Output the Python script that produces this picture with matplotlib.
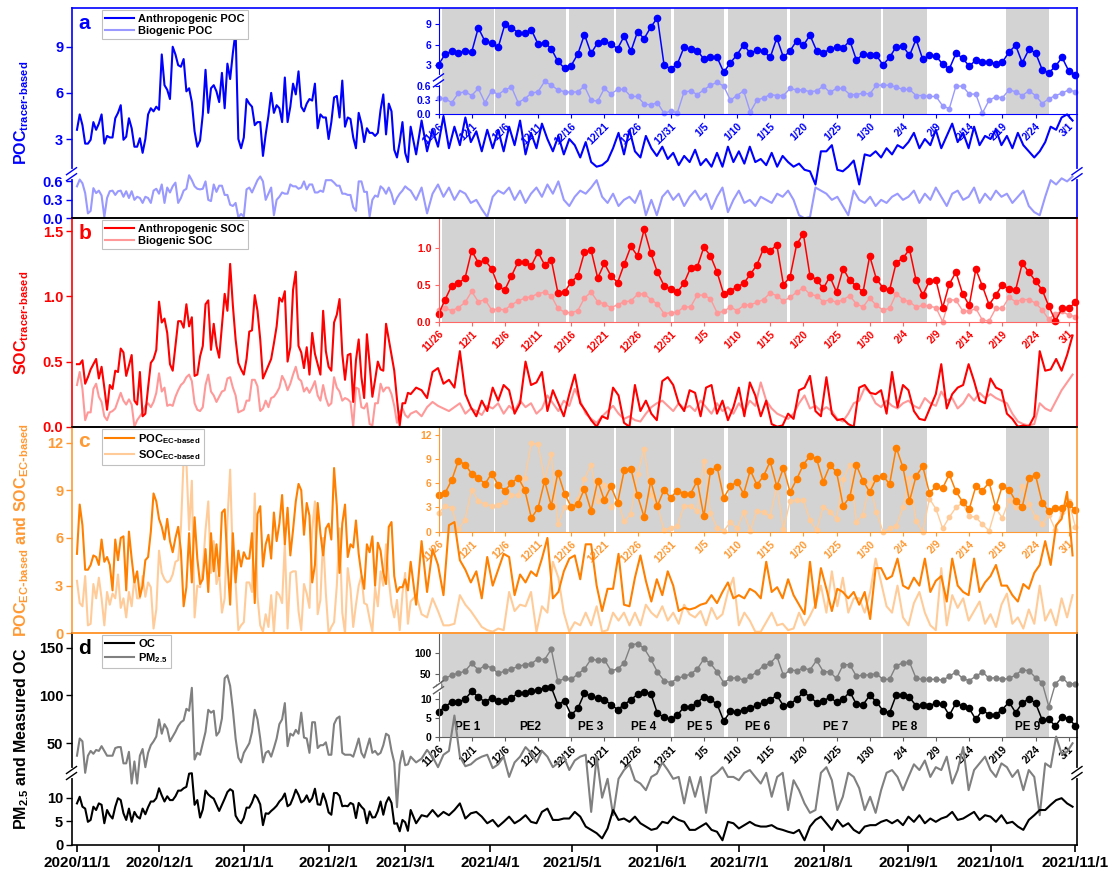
import numpy as np
import pandas as pd
import matplotlib
matplotlib.use("Agg")
import matplotlib.pyplot as plt

plt.rcParams['font.family'] = ['Liberation Sans', 'DejaVu Sans']
plt.rcParams['font.weight'] = 'bold'
plt.rcParams['axes.labelweight'] = 'bold'
plt.rcParams['mathtext.default'] = 'regular'

# ---------------- data ----------------
# 2020/11/1 - 2020/11/25, daily
poc_anth_pre = [3.6, 4.6, 3.9, 2.7, 2.7, 2.95, 4.1, 3.6, 4.0, 4.6, 2.7, 3.2, 3.1, 3.1, 4.35,
                4.7, 5.2, 2.95, 3.15, 4.35, 3.7, 2.5, 2.5, 3.05, 2.1]
poc_bio_pre = [0.52, 0.63, 0.57, 0.41, 0.08, 0.12, 0.49, 0.41, 0.45, 0.37, 0.02, 0.33, 0.44, 0.45, 0.38,
               0.44, 0.45, 0.35, 0.44, 0.33, 0.44, 0.30, 0.35, 0.33, 0.25]
soc_anth_pre = [0.48, 0.48, 0.51, 0.33, 0.38, 0.44, 0.48, 0.52, 0.37, 0.46, 0.30, 0.13, 0.32, 0.29, 0.43,
                0.42, 0.60, 0.57, 0.39, 0.47, 0.55, 0.20, 0.17, 0.42, 0.08]
soc_bio_pre = [0.32, 0.42, 0.29, 0.05, 0.11, 0.11, 0.29, 0.33, 0.23, 0.19, 0.08, 0.05, 0.11, 0.12, 0.14,
               0.20, 0.26, 0.20, 0.17, 0.21, 0.17, 0.00, 0.05, 0.08, 0.11]
poc_ec_pre = [5.0, 8.1, 6.8, 4.0, 4.0, 4.3, 4.9, 4.8, 4.3, 5.9, 4.5, 4.8, 4.3, 2.7, 5.9,
              4.6, 6.0, 6.1, 2.7, 6.4, 4.7, 3.2, 3.9, 2.3, 3.0]
soc_ec_pre = [3.3, 1.9, 1.7, 3.6, 0.5, 0.6, 3.1, 2.2, 3.5, 2.2, 0.5, 2.6, 1.8, 2.5, 2.2,
              3.7, 1.6, 2.2, 1.0, 2.6, 1.7, 3.5, 2.2, 2.2, 3.6]
pm25_pre = [37, 55, 52, 18, 37, 42, 39, 43, 42, 47, 42, 37, 37, 37, 45,
            46, 46, 29, 29, 41, 13, 31, 13, 37, 44]
oc_pre = [8.8, 10.2, 8.1, 7.7, 4.9, 5.3, 8.1, 7.4, 8.8, 8.5, 4.6, 7.4, 6.3, 5.6, 8.1,
          9.9, 9.5, 6.7, 5.3, 7.7, 4.9, 7.0, 6.0, 5.6, 7.7]

# 2020/11/26 - 2021/3/2, daily (the days shown in the insets)
poc_anth_win = [3.0, 4.6, 5.0, 4.8, 5.1, 4.9, 8.5, 6.5, 6.2, 5.6,
                9.0, 8.5, 7.8, 7.7, 8.2, 6.1, 6.3, 5.4, 3.5, 2.5,
                2.9, 4.6, 7.5, 4.7, 6.3, 6.5, 6.1, 5.4, 7.3, 5.0,
                7.9, 6.9, 8.6, 10.0, 3.0, 2.4, 3.1, 5.6, 5.3, 5.1,
                3.9, 4.1, 4.1, 1.9, 3.3, 4.5, 6.0, 4.7, 5.2, 5.0,
                4.1, 7.0, 4.1, 5.1, 6.6, 5.9, 7.4, 5.1, 4.8, 5.3,
                5.6, 5.5, 6.6, 3.7, 4.6, 4.4, 4.4, 3.0, 4.1, 5.7,
                5.8, 4.4, 6.8, 3.8, 4.4, 4.3, 3.1, 2.4, 4.7, 4.0,
                2.8, 3.7, 3.4, 3.4, 3.2, 3.4, 4.9, 5.9, 3.3, 5.3,
                4.8, 2.3, 1.8, 2.8, 4.1, 2.1, 1.5]
poc_bio_win = [0.35, 0.33, 0.25, 0.45, 0.48, 0.40, 0.55, 0.25, 0.50, 0.42,
               0.52, 0.58, 0.25, 0.33, 0.45, 0.48, 0.70, 0.62, 0.52, 0.48,
               0.47, 0.48, 0.60, 0.30, 0.28, 0.55, 0.43, 0.53, 0.53, 0.38,
               0.38, 0.22, 0.20, 0.25, 0.02, 0.07, 0.03, 0.47, 0.50, 0.42,
               0.52, 0.62, 0.68, 0.60, 0.30, 0.40, 0.50, 0.05, 0.30, 0.35,
               0.42, 0.40, 0.40, 0.55, 0.52, 0.52, 0.48, 0.50, 0.60, 0.47,
               0.55, 0.55, 0.42, 0.42, 0.45, 0.43, 0.62, 0.62, 0.62, 0.58,
               0.53, 0.53, 0.40, 0.40, 0.38, 0.38, 0.18, 0.12, 0.60, 0.60,
               0.43, 0.43, 0.03, 0.30, 0.37, 0.35, 0.52, 0.48, 0.40, 0.50,
               0.40, 0.23, 0.33, 0.40, 0.45, 0.52, 0.48]
soc_anth_win = [0.10, 0.30, 0.49, 0.52, 0.59, 0.96, 0.80, 0.83, 0.72, 0.48,
                0.43, 0.62, 0.81, 0.81, 0.76, 0.94, 0.77, 0.84, 0.39, 0.40,
                0.54, 0.62, 0.94, 0.97, 0.59, 0.79, 0.62, 0.53, 0.78, 1.02,
                0.89, 1.25, 0.93, 0.67, 0.49, 0.44, 0.40, 0.52, 0.73, 0.74,
                1.01, 0.89, 0.67, 0.37, 0.42, 0.47, 0.52, 0.64, 0.77, 0.99,
                0.96, 1.04, 0.50, 0.61, 1.05, 1.19, 0.62, 0.57, 0.45, 0.61,
                0.40, 0.72, 0.56, 0.48, 0.40, 0.89, 0.58, 0.46, 0.43, 0.80,
                0.86, 0.98, 0.56, 0.36, 0.55, 0.56, 0.19, 0.51, 0.67, 0.38,
                0.22, 0.71, 0.48, 0.23, 0.36, 0.50, 0.44, 0.43, 0.79, 0.67,
                0.55, 0.43, 0.21, 0.01, 0.18, 0.18, 0.26]
soc_bio_win = [0.16, 0.18, 0.15, 0.19, 0.26, 0.41, 0.27, 0.30, 0.16, 0.17,
               0.16, 0.23, 0.28, 0.32, 0.34, 0.38, 0.40, 0.35, 0.18, 0.13,
               0.12, 0.15, 0.32, 0.40, 0.27, 0.24, 0.19, 0.23, 0.27, 0.28,
               0.37, 0.38, 0.30, 0.24, 0.11, 0.12, 0.13, 0.20, 0.20, 0.36,
               0.36, 0.31, 0.12, 0.14, 0.20, 0.15, 0.22, 0.23, 0.26, 0.30,
               0.39, 0.35, 0.28, 0.33, 0.40, 0.46, 0.37, 0.35, 0.27, 0.30,
               0.26, 0.30, 0.35, 0.24, 0.20, 0.32, 0.22, 0.16, 0.18, 0.38,
               0.30, 0.27, 0.20, 0.22, 0.21, 0.19, 0.00, 0.30, 0.29, 0.15,
               0.14, 0.18, 0.02, 0.01, 0.18, 0.18, 0.33, 0.27, 0.30, 0.30,
               0.25, 0.16, 0.03, 0.11, 0.14, 0.09, 0.07]
poc_ec_win = [4.6, 4.8, 6.4, 8.8, 8.3, 7.2, 6.7, 5.9, 7.2, 5.8,
              5.1, 6.0, 6.7, 5.2, 1.7, 2.9, 6.3, 3.2, 7.3, 4.7,
              3.1, 3.4, 5.3, 2.6, 6.3, 3.9, 5.6, 3.6, 7.6, 7.8,
              4.5, 1.8, 6.3, 3.2, 5.2, 4.2, 5.1, 4.7, 4.7, 6.3,
              1.9, 7.5, 8.0, 4.2, 5.6, 6.2, 4.7, 7.6, 5.8, 6.9,
              8.7, 5.6, 7.9, 4.9, 6.5, 8.3, 9.4, 9.0, 6.2, 8.2,
              7.4, 3.2, 4.3, 8.2, 6.3, 4.9, 6.6, 6.9, 5.9, 10.4,
              8.0, 3.8, 6.9, 8.1, 4.8, 5.6, 5.4, 7.1, 5.0, 3.7,
              2.8, 5.6, 5.1, 6.1, 3.0, 5.7, 5.2, 3.8, 3.1, 6.7,
              7.0, 3.6, 2.6, 2.9, 2.9, 3.4, 2.7]
soc_ec_win = [2.3, 3.2, 2.9, 0.3, 1.5, 5.2, 3.8, 3.4, 3.2, 3.3,
              3.7, 4.5, 4.6, 6.6, 11.0, 10.8, 6.5, 9.6, 1.0, 3.0,
              2.9, 4.0, 6.5, 8.3, 3.8, 5.8, 3.1, 3.8, 1.3, 2.2,
              7.1, 10.3, 4.5, 3.2, 0.2, 0.5, 0.7, 3.2, 3.2, 2.6,
              8.8, 2.3, 0.5, 0.1, 1.2, 0.4, 2.4, 0.1, 2.6, 2.4,
              1.9, 5.7, 0.3, 3.8, 3.9, 3.9, 1.4, 0.2, 3.1, 2.5,
              1.6, 6.5, 8.3, 1.2, 2.1, 6.0, 2.5, 0.0, 0.4, 0.7,
              3.0, 6.6, 1.3, 0.0, 4.1, 2.8, 0.4, 1.8, 3.0, 3.6,
              1.9, 1.8, 0.9, 0.1, 2.9, 1.7, 3.9, 3.0, 5.6, 3.4,
              1.8, 1.0, 2.1, 0.2, 2.5, 3.8, 0.6]
pm25_win = [25, 40, 48, 52, 57, 75, 60, 70, 65, 52,
            57, 62, 68, 72, 74, 86, 84, 108, 33, 40,
            38, 50, 62, 85, 82, 84, 58, 62, 76, 118,
            121, 110, 85, 55, 35, 30, 40, 45, 50, 62,
            85, 75, 55, 30, 40, 42, 36, 45, 55, 70,
            75, 92, 47, 60, 58, 64, 60, 82, 56, 55,
            40, 72, 72, 45, 48, 48, 51, 38, 38, 70,
            76, 78, 40, 38, 38, 38, 36, 45, 55, 40,
            35, 45, 55, 40, 42, 38, 40, 48, 60, 58,
            42, 30, 8, 28, 42, 27, 28]
oc_win = [6.5, 8.0, 9.2, 9.2, 9.9, 12.0, 10.5, 9.2, 10.3, 9.5,
          9.5, 10.3, 11.5, 11.5, 12.0, 12.3, 16.0, 17.0, 8.5, 9.5,
          5.8, 7.5, 11.5, 10.7, 10.2, 9.8, 8.5, 7.2, 8.5, 9.8,
          11.2, 11.8, 11.4, 6.2, 5.2, 4.6, 5.7, 7.9, 7.9, 9.0,
          10.6, 9.9, 8.6, 4.2, 6.7, 6.6, 7.2, 7.7, 8.3, 9.2,
          9.8, 10.9, 8.2, 8.6, 10.0, 11.7, 10.6, 9.0, 9.4, 10.5,
          9.1, 9.9, 11.9, 8.6, 8.5, 10.9, 9.3, 6.9, 6.4, 11.0,
          11.0, 10.4, 8.2, 8.3, 8.2, 8.9, 8.6, 5.7, 8.9, 8.1,
          7.5, 4.6, 7.1, 5.8, 5.9, 7.2, 9.2, 6.4, 8.9, 10.1,
          8.9, 4.5, 4.6, 2.9, 5.3, 4.8, 3.0]

# 2021/3/3 - 2021/10/31, every second day (one row per month)
poc_anth_post = [3.8, 2.0, 4.2, 2.2, 3.6, 2.5, 4.5, 2.4, 3.8, 2.6, 4.4, 2.8, 3.5, 2.2, 3.6,
                 2.4, 3.6, 2.2, 3.8, 2.6, 4.2, 2.0, 3.4, 2.4, 4.0, 3.0, 2.2, 3.2, 2.0, 3.0,
                 2.6, 1.8, 2.8, 1.5, 1.2, 1.3, 1.6, 2.4, 3.4, 2.0, 3.6, 2.2, 1.8, 3.2, 2.4,
                 1.9, 2.5, 1.7, 2.1, 1.3, 1.9, 1.5, 2.3, 1.3, 1.7, 1.2, 2.1, 1.2, 2.5, 1.5,
                 2.2, 1.4, 2.5, 1.5, 1.7, 1.3, 2.1, 1.2, 1.9, 1.5, 1.2, 1.4, 1.0, 0.9, 0.55, 2.2,
                 2.2, 2.6, 1.0, 0.9, 1.2, 1.6, 0.55, 2.0, 1.9, 2.2, 1.8, 2.4, 2.0, 2.6, 2.4,
                 2.8, 3.4, 2.4, 3.0, 2.6, 3.6, 2.4, 3.2, 4.0, 2.8, 3.4, 2.4, 3.8, 2.6, 3.2,
                 3.0, 3.6, 2.6, 3.2, 2.4, 3.4, 2.6, 2.2, 1.8, 2.2, 2.8, 3.8, 3.6, 4.4, 4.6, 4.2]
poc_bio_post = [0.45, 0.30, 0.50, 0.08, 0.40, 0.55, 0.35, 0.50, 0.30, 0.45, 0.40, 0.25, 0.30, 0.15, 0.02,
                0.35, 0.45, 0.40, 0.50, 0.30, 0.45, 0.25, 0.40, 0.50, 0.35, 0.55, 0.40, 0.60, 0.30, 0.20,
                0.35, 0.45, 0.40, 0.50, 0.62, 0.35, 0.25, 0.40, 0.20, 0.30, 0.35, 0.25, 0.45, 0.05, 0.30,
                0.05, 0.35, 0.45, 0.30, 0.40, 0.20, 0.35, 0.45, 0.30, 0.40, 0.15, 0.35, 0.50, 0.10, 0.30,
                0.45, 0.25, 0.30, 0.20, 0.35, 0.30, 0.25, 0.40, 0.35, 0.45, 0.30, 0.05, 0.00, 0.02, 0.50, 0.45,
                0.40, 0.30, 0.35, 0.20, 0.05, 0.45, 0.30, 0.25, 0.35, 0.20, 0.30, 0.25, 0.35, 0.40, 0.30,
                0.35, 0.45, 0.25, 0.40, 0.30, 0.50, 0.35, 0.20, 0.40, 0.45, 0.30, 0.35, 0.50, 0.25, 0.40,
                0.30, 0.45, 0.35, 0.40, 0.25, 0.35, 0.45, 0.20, 0.10, 0.05, 0.35, 0.62, 0.55, 0.65, 0.60, 0.68]
soc_anth_post = [0.25, 0.30, 0.28, 0.22, 0.42, 0.45, 0.33, 0.36, 0.30, 0.58, 0.25, 0.15, 0.08, 0.20, 0.12,
                 0.30, 0.20, 0.32, 0.28, 0.10, 0.18, 0.50, 0.32, 0.34, 0.42, 0.12, 0.28, 0.18, 0.08, 0.25,
                 0.40, 0.18, 0.12, 0.05, 0.00, 0.08, 0.06, 0.30, 0.24, 0.03, 0.00, 0.32, 0.12, 0.20, 0.10,
                 0.05, 0.35, 0.38, 0.32, 0.18, 0.12, 0.28, 0.26, 0.08, 0.30, 0.32, 0.10, 0.20, 0.05, 0.15,
                 0.30, 0.08, 0.34, 0.24, 0.08, 0.20, 0.02, 0.00, 0.01, 0.10, 0.06, 0.28, 0.30, 0.39, 0.12, 0.08,
                 0.38, 0.10, 0.05, 0.06, 0.02, 0.00, 0.30, 0.32, 0.26, 0.25, 0.28, 0.10, 0.42, 0.15, 0.32,
                 0.28, 0.12, 0.06, 0.05, 0.15, 0.25, 0.48, 0.14, 0.25, 0.30, 0.32, 0.48, 0.35, 0.20, 0.18,
                 0.37, 0.30, 0.28, 0.10, 0.06, 0.00, 0.01, 0.00, 0.08, 0.58, 0.43, 0.44, 0.52, 0.43, 0.55, 0.70]
soc_bio_post = [0.10, 0.12, 0.08, 0.15, 0.19, 0.16, 0.14, 0.12, 0.15, 0.18, 0.10, 0.14, 0.12, 0.09, 0.16,
                0.14, 0.18, 0.10, 0.16, 0.12, 0.20, 0.15, 0.18, 0.10, 0.14, 0.24, 0.18, 0.12, 0.20, 0.16,
                0.29, 0.20, 0.10, 0.06, 0.03, 0.08, 0.12, 0.16, 0.10, 0.06, 0.08, 0.05, 0.04, 0.10, 0.15,
                0.18, 0.20, 0.16, 0.12, 0.18, 0.14, 0.16, 0.12, 0.20, 0.15, 0.10, 0.18, 0.12, 0.15, 0.10,
                0.18, 0.12, 0.20, 0.16, 0.34, 0.20, 0.14, 0.10, 0.08, 0.06, 0.10, 0.18, 0.24, 0.14, 0.16, 0.12,
                0.15, 0.12, 0.06, 0.04, 0.10, 0.18, 0.20, 0.30, 0.26, 0.18, 0.15, 0.20, 0.16, 0.14, 0.18,
                0.20, 0.16, 0.14, 0.22, 0.18, 0.16, 0.27, 0.20, 0.22, 0.14, 0.18, 0.25, 0.20, 0.26, 0.22,
                0.25, 0.22, 0.20, 0.18, 0.10, 0.04, 0.02, 0.01, 0.02, 0.18, 0.14, 0.12, 0.20, 0.28, 0.34, 0.40]
poc_ec_post = [4.5, 1.8, 5.8, 2.6, 5.3, 4.3, 2.4, 6.8, 7.0, 4.6, 4.0, 3.2, 3.9, 2.2, 4.8,
               3.0, 4.0, 5.0, 4.8, 2.4, 3.7, 3.2, 3.9, 3.6, 4.7, 6.0, 2.2, 2.6, 3.9, 4.7,
               4.9, 3.4, 5.6, 5.6, 3.0, 1.4, 2.8, 2.8, 5.0, 1.8, 1.7, 3.5, 4.9, 3.3, 2.0,
               3.4, 2.4, 3.9, 3.0, 1.4, 1.6, 1.5, 1.6, 1.8, 1.9, 2.4, 1.9, 2.6, 3.2, 2.2,
               2.4, 2.2, 2.8, 2.6, 2.2, 4.5, 2.6, 2.9, 2.2, 3.4, 2.4, 1.8, 1.2, 4.5, 1.6, 4.1,
               2.8, 1.4, 2.8, 2.6, 2.2, 2.6, 1.8, 2.6, 0.9, 4.1, 4.1, 3.4, 3.6, 4.7, 3.0,
               2.8, 3.5, 3.0, 4.7, 2.6, 3.3, 3.6, 2.0, 4.7, 3.0, 2.6, 2.4, 4.7, 2.6, 3.2,
               3.6, 4.3, 3.0, 3.0, 2.4, 2.0, 3.1, 2.8, 3.8, 4.3, 5.8, 4.3, 6.8, 7.2, 8.9, 4.9]
soc_ec_post = [2.0, 2.4, 1.2, 1.0, 2.2, 1.4, 0.5, 0.5, 0.6, 2.4, 1.8, 1.4, 0.9, 0.4, 0.2,
               0.1, 0.3, 0.2, 2.6, 1.4, 1.8, 1.7, 2.6, 0.1, 1.7, 1.3, 4.5, 3.5, 1.3, 0.1,
               0.7, 0.5, 1.3, 0.5, 1.7, 0.1, 0.2, 1.3, 0.8, 1.3, 0.5, 1.3, 0.5, 1.8, 1.3,
               1.0, 1.7, 0.8, 1.3, 0.6, 1.8, 1.2, 1.0, 1.4, 0.5, 1.6, 0.9, 1.2, 2.6, 3.5,
               0.5, 1.3, 0.8, 0.1, 0.1, 0.7, 1.3, 0.5, 0.6, 0.2, 0.3, 1.3, 0.5, 1.1, 1.8, 3.0,
               1.3, 3.9, 1.7, 3.5, 1.3, 2.2, 2.2, 1.3, 2.6, 4.7, 3.2, 1.7, 1.3, 3.0, 1.0,
               0.5, 1.9, 2.6, 1.3, 0.5, 0.2, 4.1, 0.5, 2.4, 1.6, 2.2, 0.8, 1.4, 2.0, 0.6,
               1.2, 0.4, 1.8, 2.5, 0.6, 1.0, 0.3, 1.5, 0.6, 3.0, 0.8, 1.5, 0.5, 2.2, 1.0, 2.4]
pm25_post = [36, 30, 34, 43, 36, 25, 38, 42, 79, 36, 26, 28, 33, 36, 38,
             24, 28, 36, 14.4, 30, 36, 46, 40, 30, 42, 36, 25, 30, 36, 22,
             32, 36, 38, 7.0, 36, 10, 14, 6.3, 14, 22, 28, 13.7, 13, 11.6, 14.4,
             16, 30, 22, 14, 14.4, 8.8, 14.4, 10.2, 14.4, 6.8, 14.4, 18, 25, 14.4, 14.4,
             13.7, 18, 22, 14.4, 13, 18, 10.2, 14.4, 18, 7.4, 13.7, 11.6, 8.8, 6.8, 7.4, 18,
             25, 13.7, 7.4, 10.2, 18, 14.4, 12, 7.4, 10.2, 6.8, 11.6, 18, 22, 14.4, 11.6,
             14.4, 28, 22, 32, 14.4, 25, 22, 36, 13, 22, 46, 11.6, 22, 29, 36,
             22, 14.4, 29, 25, 14.4, 22, 11.6, 22, 14.4, 6.3, 29, 25, 57, 39, 41, 50]
oc_post = [7.4, 4.6, 6.3, 6.0, 7.4, 6.0, 7.0, 6.3, 7.4, 8.8, 5.6, 6.7, 7.0, 6.0, 4.6,
           5.3, 3.9, 4.9, 6.0, 4.6, 5.3, 6.3, 4.9, 4.6, 7.0, 7.7, 5.3, 5.3, 5.6, 5.6,
           7.0, 6.0, 3.9, 3.2, 2.5, 1.4, 3.5, 7.4, 5.3, 5.6, 4.9, 6.0, 4.6, 3.9, 3.2,
           3.5, 4.9, 4.6, 6.0, 5.3, 4.9, 3.2, 3.2, 3.9, 4.6, 3.2, 2.8, 1.0, 4.9, 4.6,
           3.5, 4.2, 4.9, 4.2, 3.9, 3.9, 4.2, 3.5, 3.2, 2.8, 2.5, 3.2, 1.0, 3.9, 5.3, 6.0,
           4.6, 3.2, 5.3, 3.9, 4.6, 3.2, 2.5, 3.9, 4.2, 4.2, 4.9, 5.3, 4.6, 5.3, 4.2,
           6.0, 4.9, 6.3, 4.6, 5.6, 4.9, 5.6, 6.0, 7.0, 5.3, 5.6, 6.3, 7.0, 5.3, 6.3,
           6.0, 4.9, 6.3, 4.6, 4.9, 3.9, 3.2, 5.3, 6.3, 7.4, 7.4, 8.5, 9.5, 9.9, 8.8, 8.1]

# pollution episodes, in days after 2020/11/26
pe_names = ['PE 1', 'PE2', 'PE 3', 'PE 4', 'PE 5', 'PE 6', 'PE 7', 'PE 8', 'PE 9']
pe_start = [0.5, 8.5, 19.6, 26.7, 35.5, 43.6, 53.0, 67.0, 85.5]
pe_end = [8.3, 19.2, 26.4, 35.0, 43.1, 52.5, 66.7, 73.6, 92.0]

pre_days = pd.date_range('2020-11-01', periods=len(oc_pre), freq='D')
win_days = pd.date_range('2020-11-26', periods=len(oc_win), freq='D')
post_days = pd.date_range('2021-03-03', periods=len(oc_post), freq='2D')
all_days = pre_days.append(win_days).append(post_days)

month_ticks = pd.date_range('2020-11-01', '2021-11-01', freq='MS')
month_labels = [f'{d.year}/{d.month}/{d.day}' for d in month_ticks]
inset_ticks = pd.date_range('2020-11-26', '2021-03-01', freq='5D')
inset_labels = [f'{d.month}/{d.day}' for d in inset_ticks]

BLUE, LBLUE = '#0000FF', '#9999FF'
RED, LRED = '#FF0000', '#FF9999'
ORANGE, LORANGE, ORANGE_TXT = '#FF8000', '#FFCC99', '#FF9933'
BLACK, GREY = '#000000', '#808080'
SPAN = '#D3D3D3'

W, H = 1116, 874


def rect(x0, y0, x1, y1):
    return [x0 / W, 1 - y1 / H, (x1 - x0) / W, (y1 - y0) / H]


def full(pre, win, post):
    return np.concatenate([pre, win, post])


def piecewise(xp, fp):
    xp = np.asarray(xp, float)
    fp = np.asarray(fp, float)
    s0 = (fp[1] - fp[0]) / (xp[1] - xp[0])
    s1 = (fp[-1] - fp[-2]) / (xp[-1] - xp[-2])

    def f(v):
        v = np.asarray(v, float)
        out = np.interp(v, xp, fp)
        out = np.where(v < xp[0], fp[0] + (v - xp[0]) * s0, out)
        return np.where(v > xp[-1], fp[-1] + (v - xp[-1]) * s1, out)
    return f


def set_broken(ax, lo, hi, split, gap):
    # broken y axis: lower range takes `split` of the height
    xp = [lo[0], lo[1], hi[0], hi[1]]
    fp = [0, split, split + gap, 1]
    ax.set_yscale('function', functions=(piecewise(xp, fp), piecewise(fp, xp)))
    ax.set_ylim(lo[0], hi[1])
    return split + gap / 2


def break_marks(ax, frac, color, right=True):
    bb = ax.get_position()
    pw, ph = bb.width * W, bb.height * H
    dx, dy, sep = 5 / pw, 3.5 / ph, 3 / ph
    for xs in ([0, 1] if right else [0]):
        ax.plot([xs, xs], [frac - sep, frac + sep], transform=ax.transAxes,
                color='white', lw=3, clip_on=False, zorder=6)
        for s in (-sep, sep):
            ax.plot([xs - dx, xs + dx], [frac + s - dy, frac + s + dy], transform=ax.transAxes,
                    color=color, lw=1.0, clip_on=False, zorder=7)


def style_main(ax, side, top, bottom, tcolor, yticks, ylabels, ylabel, letter):
    ax.set_zorder(3)
    ax.patch.set_visible(False)
    ax.set_xlim(pd.Timestamp('2020-10-30'), pd.Timestamp('2021-11-01 15:00'))
    for s in ('left', 'right'):
        ax.spines[s].set_color(side)
    ax.spines['top'].set_color(top)
    ax.spines['bottom'].set_color(bottom)
    for s in ax.spines.values():
        s.set_linewidth(1.2)
    ax.set_yticks(yticks)
    ax.set_yticklabels(ylabels)
    ax.tick_params(axis='y', direction='out', length=4, width=1, colors=side,
                   labelcolor=tcolor, labelsize=10.5, pad=2)
    ax.tick_params(axis='x', bottom=False, labelbottom=False)
    ax.set_ylabel(ylabel, fontsize=11.5, color=tcolor, fontweight='bold')
    ax.yaxis.set_label_coords(-0.040, 0.5)
    ax.text(0.007, 0.975, letter, transform=ax.transAxes, ha='left', va='top',
            fontsize=15, color=tcolor)


def style_inset(ax, color, tcolor, yticks, ylabels):
    ax.set_zorder(2)
    ax.patch.set_visible(False)
    ax.set_xlim(win_days[0], win_days[-1] + pd.Timedelta(hours=6))
    for s in ('top', 'right'):
        ax.spines[s].set_visible(False)
    ax.spines['left'].set_color(color)
    ax.spines['bottom'].set_color(color)
    for start, end in zip(pe_start, pe_end):
        ax.axvspan(win_days[0] + pd.Timedelta(days=start), win_days[0] + pd.Timedelta(days=end),
                   color=SPAN, lw=0, zorder=0)
    ax.set_xticks(inset_ticks)
    ax.set_xticklabels(inset_labels, rotation=45, ha='right', rotation_mode='anchor')
    ax.set_yticks(yticks)
    ax.set_yticklabels(ylabels)
    ax.tick_params(direction='out', length=3, width=0.8, colors=color,
                   labelcolor=tcolor, labelsize=7.5, pad=2)


def legend(ax, handles, labels):
    lg = ax.legend(handles, labels, loc='upper left', bbox_to_anchor=(0.03, 0.99), fontsize=8,
                   frameon=True, fancybox=False, edgecolor='#C0C0C0', framealpha=1,
                   handlelength=2.6, handletextpad=0.4, borderpad=0.3, labelspacing=0.2,
                   borderaxespad=0)
    lg.get_frame().set_linewidth(0.8)


fig = plt.figure(figsize=(W / 100, H / 100), dpi=100)

# ---- a: tracer-based POC ----
ax = fig.add_axes(rect(71.5, 8.3, 1077, 218.3))
l2, = ax.plot(all_days, full(poc_bio_pre, poc_bio_win, poc_bio_post), color=LBLUE, lw=1.5)
l1, = ax.plot(all_days, full(poc_anth_pre, poc_anth_win, poc_anth_post), color=BLUE, lw=1.5)
fr = set_broken(ax, (0, 0.7), (0.78, 11.5), 0.205, 0.01)
style_main(ax, BLUE, BLUE, BLACK, BLUE, [0, 0.3, 0.6, 3, 6, 9], ['0.0', '0.3', '0.6', '3', '6', '9'],
           r'POC$_{tracer\text{-}based}$', 'a')
legend(ax, [l1, l2], ['Anthropogenic POC', 'Biogenic POC'])
break_marks(ax, fr, BLUE)

axi = fig.add_axes(rect(438.5, 8.3, 1077, 114.3))
axi.plot(win_days, poc_bio_win, color=LBLUE, lw=1, marker='o', ms=3.2, clip_on=False)
axi.plot(win_days, poc_anth_win, color=BLUE, lw=1.1, marker='o', ms=4.5, clip_on=False)
fr = set_broken(axi, (0, 0.7), (0.85, 11.4), 0.31, 0.02)
style_inset(axi, BLUE, BLUE, [0, 0.3, 0.6, 3, 6, 9], ['0.0', '0.3', '0.6', '3', '6', '9'])
break_marks(axi, fr, BLUE, right=False)

# ---- b: tracer-based SOC ----
ax = fig.add_axes(rect(71.5, 218.3, 1077, 426.7))
l2, = ax.plot(all_days, full(soc_bio_pre, soc_bio_win, soc_bio_post), color=LRED, lw=1.5)
l1, = ax.plot(all_days, full(soc_anth_pre, soc_anth_win, soc_anth_post), color=RED, lw=1.5)
ax.set_ylim(0, 1.6)
style_main(ax, RED, BLACK, BLACK, RED, [0, 0.5, 1.0, 1.5], ['0.0', '0.5', '1.0', '1.5'],
           r'SOC$_{tracer\text{-}based}$', 'b')
legend(ax, [l1, l2], ['Anthropogenic SOC', 'Biogenic SOC'])

axi = fig.add_axes(rect(438.5, 218.3, 1077, 321.7))
axi.plot(win_days, soc_bio_win, color=LRED, lw=1, marker='o', ms=3.2, clip_on=False)
axi.plot(win_days, soc_anth_win, color=RED, lw=1.1, marker='o', ms=4.5, clip_on=False)
axi.set_ylim(0, 1.4)
style_inset(axi, '#FF6666', RED, [0, 0.5, 1.0], ['0.0', '0.5', '1.0'])

# ---- c: EC-based POC and SOC ----
ax = fig.add_axes(rect(71.5, 426.7, 1077, 633.3))
l2, = ax.plot(all_days, full(soc_ec_pre, soc_ec_win, soc_ec_post), color=LORANGE, lw=1.5)
l1, = ax.plot(all_days, full(poc_ec_pre, poc_ec_win, poc_ec_post), color=ORANGE, lw=1.5)
ax.set_ylim(0, 13)
style_main(ax, ORANGE_TXT, BLACK, ORANGE_TXT, ORANGE_TXT, [0, 3, 6, 9, 12], ['0', '3', '6', '9', '12'],
           r'POC$_{EC\text{-}based}$ and SOC$_{EC\text{-}based}$', 'c')
legend(ax, [l1, l2], [r'POC$_{EC\text{-}based}$', r'SOC$_{EC\text{-}based}$'])

axi = fig.add_axes(rect(438.5, 426.7, 1077, 531.7))
axi.plot(win_days, soc_ec_win, color=LORANGE, lw=1, marker='o', ms=3.2, clip_on=False)
axi.plot(win_days, poc_ec_win, color=ORANGE, lw=1.1, marker='o', ms=4.5, clip_on=False)
axi.set_ylim(0, 13)
style_inset(axi, ORANGE_TXT, ORANGE_TXT, [0, 3, 6, 9, 12], ['0', '3', '6', '9', '12'])

# ---- d: measured OC and PM2.5 ----
ax = fig.add_axes(rect(71.5, 633.3, 1077, 845))
l2, = ax.plot(all_days, full(pm25_pre, pm25_win, pm25_post), color=GREY, lw=1.5)
l1, = ax.plot(all_days, full(oc_pre, oc_win, oc_post), color=BLACK, lw=1.5)
fr = set_broken(ax, (0, 15), (20, 165), 0.335, 0.01)
style_main(ax, BLACK, ORANGE_TXT, BLACK, BLACK, [0, 5, 10, 50, 100, 150],
           ['0', '5', '10', '50', '100', '150'], r'PM$_{2.5}$ and Measured OC', 'd')
ax.set_xticks(month_ticks)
ax.set_xticklabels(month_labels)
ax.tick_params(axis='x', bottom=True, labelbottom=True, direction='out', length=5, width=1.2,
               labelsize=11, pad=3)
legend(ax, [l1, l2], ['OC', r'PM$_{2.5}$'])
break_marks(ax, fr, BLACK)

axi = fig.add_axes(rect(438.5, 633.3, 1077, 737))
axi.plot(win_days, pm25_win, color=GREY, lw=1, marker='o', ms=3.5, clip_on=False)
axi.plot(win_days, oc_win, color=BLACK, lw=1.1, marker='o', ms=4.5, clip_on=False)
fr = set_broken(axi, (0, 12.8), (22, 145), 0.47, 0.02)
style_inset(axi, '#606060', BLACK, [0, 5, 10, 50, 100], ['0', '5', '10', '50', '100'])
for name, start, end in zip(pe_names, pe_start, pe_end):
    mid = win_days[0] + pd.Timedelta(days=(start + end) / 2)
    axi.text(mid, 2.6, name, ha='center', va='center', fontsize=8.5, zorder=5)
break_marks(axi, fr, '#606060', right=False)

fig.savefig('out.png', dpi=100)
